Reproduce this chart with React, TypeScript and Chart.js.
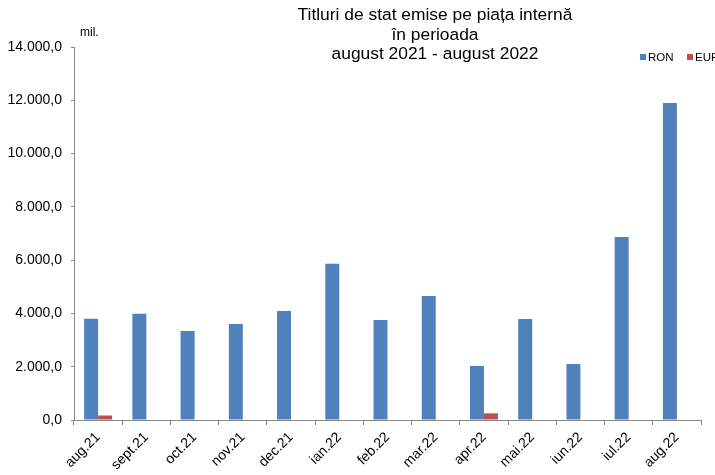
import React, { useEffect, useRef } from "react";
import { Chart, registerables } from "chart.js";

Chart.register(...registerables);

const categories = ["aug.21", "sept.21", "oct.21", "nov.21", "dec.21", "ian.22", "feb.22", "mar.22", "apr.22", "mai.22", "iun.22", "iul.22", "aug.22"];
const ronValues = [3800, 3990, 3340, 3600, 4090, 5860, 3750, 4650, 2030, 3790, 2100, 6870, 11900];
const eurValues = [170, 0, 0, 0, 0, 0, 0, 0, 250, 0, 0, 0, 0];
const titleLines = ["Titluri de stat emise pe piața internă", "în perioada", "august 2021 - august 2022"];
const seriesNames = ["RON", "EUR"];
const unitLabel = "mil.";

const FONT = "'Liberation Sans', Arial, sans-serif";

function fmt(v: number): string {
  const fixed = v.toFixed(1);
  const [intPart, dec] = fixed.split(".");
  const withSep = intPart.replace(/\B(?=(\d{3})+(?!\d))/g, ".");
  return withSep + "," + dec;
}

const decorPlugin = {
  id: "decor",
  afterDraw(chart: any) {
    const ctx = chart.ctx;
    ctx.save();
    ctx.fillStyle = "#000";
    ctx.textBaseline = "middle";
    ctx.textAlign = "center";
    ctx.font = `17.4px ${FONT}`;
    const centers = [[435, 15], [435, 35], [435, 54]];
    titleLines.forEach((t, i) => ctx.fillText(t, centers[i][0], centers[i][1]));
    ctx.font = `12px ${FONT}`;
    ctx.textAlign = "left";
    ctx.fillText(unitLabel, 80, 33);
    // legend
    const colors = ["#4F81BD", "#C0504D"];
    const xs = [640, 687];
    ctx.font = `11.5px ${FONT}`;
    seriesNames.forEach((n, i) => {
      ctx.fillStyle = colors[i];
      ctx.fillRect(xs[i], 54, 6, 6);
      ctx.fillStyle = "#000";
      ctx.fillText(n, xs[i] + 8, 57.5);
    });
    ctx.restore();
  },
};

export default function App() {
  const ref = useRef<HTMLCanvasElement>(null);
  useEffect(() => {
    if (!ref.current) return;
    const chart = new Chart(ref.current, {
      type: "bar",
      data: {
        labels: categories,
        datasets: [
          { label: seriesNames[0], data: ronValues, backgroundColor: "#4F81BD", categoryPercentage: 0.58, barPercentage: 1.0 },
          { label: seriesNames[1], data: eurValues, backgroundColor: "#C0504D", categoryPercentage: 0.58, barPercentage: 1.0 },
        ],
      },
      options: {
        animation: false,
        responsive: true,
        maintainAspectRatio: false,
        layout: { padding: { top: 47, right: 14, left: 0, bottom: 0 } },
        plugins: { legend: { display: false }, title: { display: false }, tooltip: { enabled: false } },
        scales: {
          x: {
            grid: { display: true, offset: true, drawOnChartArea: false, drawTicks: true, tickLength: 5, color: "#868686" },
            border: { display: true, color: "#868686" },
            ticks: { color: "#000", font: { family: FONT, size: 14 }, maxRotation: 45, minRotation: 45, autoSkip: false, padding: 4 },
            afterFit: (s: any) => { s.height = 55; },
          },
          y: {
            min: 0,
            max: 14000,
            grid: { display: true, drawOnChartArea: false, drawTicks: true, tickLength: 3, color: "#868686" },
            border: { display: true, color: "#868686" },
            ticks: { stepSize: 2000, color: "#000", font: { family: FONT, size: 14 }, padding: 9, callback: (v: any) => fmt(Number(v)) },
            afterFit: (s: any) => { s.width = 74; },
          },
        },
      },
      plugins: [decorPlugin],
    });
    return () => chart.destroy();
  }, []);
  return (
    <div style={{ position: "absolute", left: 0, top: 0, width: 715, height: 475, background: "#fff" }}>
      <canvas ref={ref} />
    </div>
  );
}
